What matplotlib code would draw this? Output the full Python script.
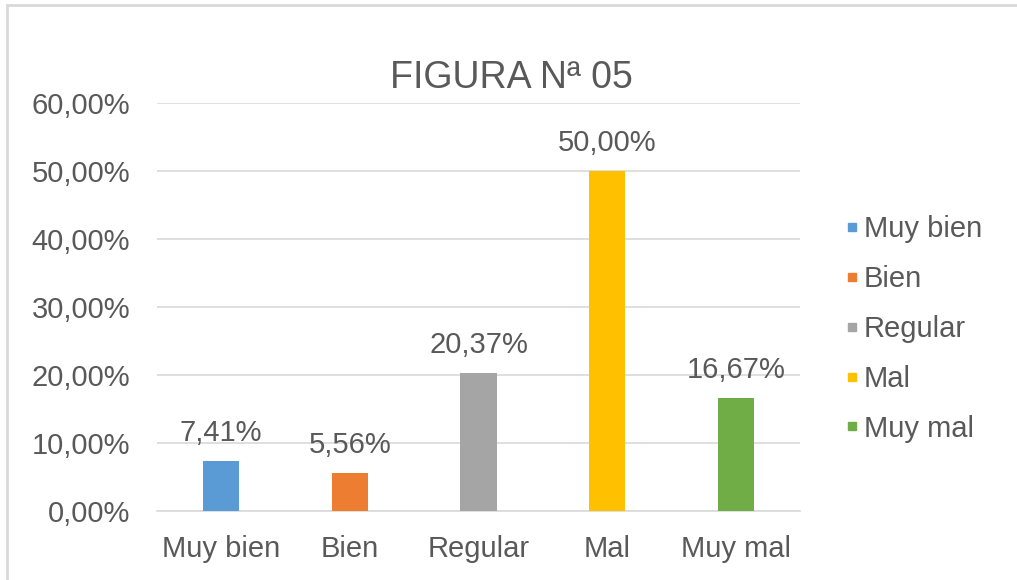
import matplotlib
matplotlib.use("Agg")
from matplotlib import pyplot as plt
from matplotlib.lines import Line2D
from matplotlib.patches import Rectangle
from matplotlib.ticker import FuncFormatter

categories = ["Muy bien", "Bien", "Regular", "Mal", "Muy mal"]
values = [7.41, 5.56, 20.37, 50.00, 16.67]
colors = ["#5B9BD5", "#ED7D31", "#A5A5A5", "#FFC000", "#70AD47"]
title = "FIGURA Nª 05"

text_color = "#595959"
plt.rcParams["font.family"] = ["Liberation Sans", "DejaVu Sans"]


def pct(v):
    return ("%.2f%%" % v).replace(".", ",")


fig = plt.figure(figsize=(10.17, 5.8), dpi=100)
ax = fig.add_axes([0.154, 0.119, 0.633, 0.703])

x = list(range(len(categories)))
ax.bar(x, values, width=0.28, color=colors, zorder=3)

for xi, v in zip(x, values):
    ax.annotate(pct(v), (xi, v), xytext=(0, 10), textcoords="offset points",
                ha="center", va="bottom", fontsize=21, color=text_color)

ax.set_xlim(-0.5, len(categories) - 0.5)
ax.set_ylim(0, 60)
ax.set_yticks(range(0, 61, 10))
ax.yaxis.set_major_formatter(FuncFormatter(lambda v, p: pct(v)))
ax.set_xticks(x)
ax.set_xticklabels(categories)
ax.tick_params(axis="y", length=0, pad=19, labelsize=21, labelcolor=text_color)
ax.tick_params(axis="x", length=0, pad=17, labelsize=21, labelcolor=text_color)
ax.grid(axis="y", color="#D9D9D9", linewidth=1.2, zorder=0)
for s in ["top", "right", "left"]:
    ax.spines[s].set_visible(False)
ax.spines["bottom"].set_color("#D9D9D9")
ax.spines["bottom"].set_linewidth(1.2)

fig.text(0.503, 0.865, title, ha="center", va="center", fontsize=27,
         color=text_color)

handles = [Line2D([], [], marker="s", linestyle="none", markersize=6,
                  color=c) for c in colors]
fig.legend(handles, categories, loc="center left",
           bbox_to_anchor=(0.805, 0.433), frameon=False, fontsize=21,
           labelcolor=text_color, handletextpad=0.15, labelspacing=0.75,
           handlelength=0.5)

fig.add_artist(Rectangle((7 / 1017, -0.1), 1.2, 1.1 - 5 / 580,
                         transform=fig.transFigure, fill=False,
                         edgecolor="#D9D9D9", linewidth=2))

fig.savefig("out.png", dpi=100)
